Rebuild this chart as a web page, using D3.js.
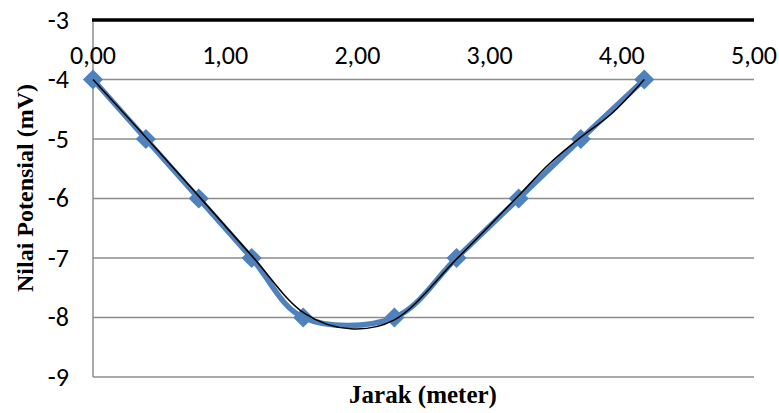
<!DOCTYPE html>
<html><head><meta charset="utf-8">
<script src="https://cdn.jsdelivr.net/npm/d3@7"></script>
<style>body{margin:0;background:#fff}</style>
</head><body>
<svg id="c" width="779" height="413"></svg>
<script>
const jarak = [0, 0.40, 0.80, 1.20, 1.59, 2.28, 2.75, 3.22, 3.69, 4.17];
const potensial = [-4, -5, -6, -7, -8, -8, -7, -6, -5, -4];
const trendX = [0, 0.40, 0.80, 1.20, 1.60, 1.95, 2.28, 2.75, 3.22, 3.45, 3.69, 3.92, 4.17];
const trendY = [-4.0, -4.97, -5.96, -6.96, -7.93, -8.19, -8.04, -7.02, -5.95, -5.42, -4.97, -4.58, -4.0];
const xTicks = [0, 1, 2, 3, 4, 5];
const yTicks = [-3, -4, -5, -6, -7, -8, -9];

const svg = d3.select("#c");
const x = d3.scaleLinear().domain([0, 5]).range([93, 754]);
const y = d3.scaleLinear().domain([-9, -3]).range([377, 20]);
const fmt = d => d.toFixed(2).replace(".", ",");
const tickFont = "Carlito, Calibri, 'Liberation Sans', Arial, sans-serif";
const titleFont = "'Liberation Serif', 'Times New Roman', serif";

// gridlines
svg.append("g").selectAll("line").data(yTicks.filter(v => v !== -3)).join("line")
  .attr("x1", x(0)).attr("x2", x(5)).attr("y1", d => y(d)).attr("y2", d => y(d))
  .attr("stroke", "#8c8c8c").attr("stroke-width", 1.5);
// left axis
svg.append("line").attr("x1", x(0)).attr("x2", x(0)).attr("y1", y(-3)).attr("y2", y(-9))
  .attr("stroke", "#8c8c8c").attr("stroke-width", 1.5);
// top axis (x axis crossing at -3)
svg.append("line").attr("x1", x(0) - 1).attr("x2", x(5)).attr("y1", y(-3)).attr("y2", y(-3))
  .attr("stroke", "#000").attr("stroke-width", 3.5);

// y tick labels
svg.append("g").selectAll("text").data(yTicks).join("text")
  .attr("x", 69).attr("y", d => y(d) + 8.5).attr("text-anchor", "end")
  .attr("font-family", tickFont).attr("font-size", 26)
  .text(d => d);
// x tick labels
svg.append("g").selectAll("text").data(xTicks).join("text")
  .attr("x", d => x(d)).attr("y", 63.5).attr("text-anchor", "middle")
  .attr("font-family", tickFont).attr("font-size", 26)
  .text(fmt);

const data = jarak.map((d, i) => [d, potensial[i]]);
const tdata = trendX.map((d, i) => [d, trendY[i]]);

svg.append("path").datum(data)
  .attr("d", d3.line().x(d => x(d[0])).y(d => y(d[1])).curve(d3.curveCatmullRom.alpha(0.5)))
  .attr("fill", "none").attr("stroke", "#4f81bd").attr("stroke-width", 5.5).attr("stroke-linejoin", "round");

svg.append("g").selectAll("path").data(data).join("path")
  .attr("d", d3.symbol().type(d3.symbolDiamond2).size(260))
  .attr("transform", d => `translate(${x(d[0])},${y(d[1])})`)
  .attr("fill", "#4f81bd");

svg.append("path").datum(tdata)
  .attr("d", d3.line().x(d => x(d[0])).y(d => y(d[1])).curve(d3.curveCatmullRom.alpha(0.5)))
  .attr("fill", "none").attr("stroke", "#000").attr("stroke-width", 1.6);

// axis titles
svg.append("text").attr("x", 423).attr("y", 403).attr("text-anchor", "middle")
  .attr("font-family", titleFont).attr("font-weight", "bold").attr("font-size", 25)
  .text("Jarak (meter)");
svg.append("text").attr("transform", "translate(33,188) rotate(-90)").attr("text-anchor", "middle")
  .attr("font-family", titleFont).attr("font-weight", "bold").attr("font-size", 24)
  .text("Nilai Potensial (mV)");
</script>
</body></html>
